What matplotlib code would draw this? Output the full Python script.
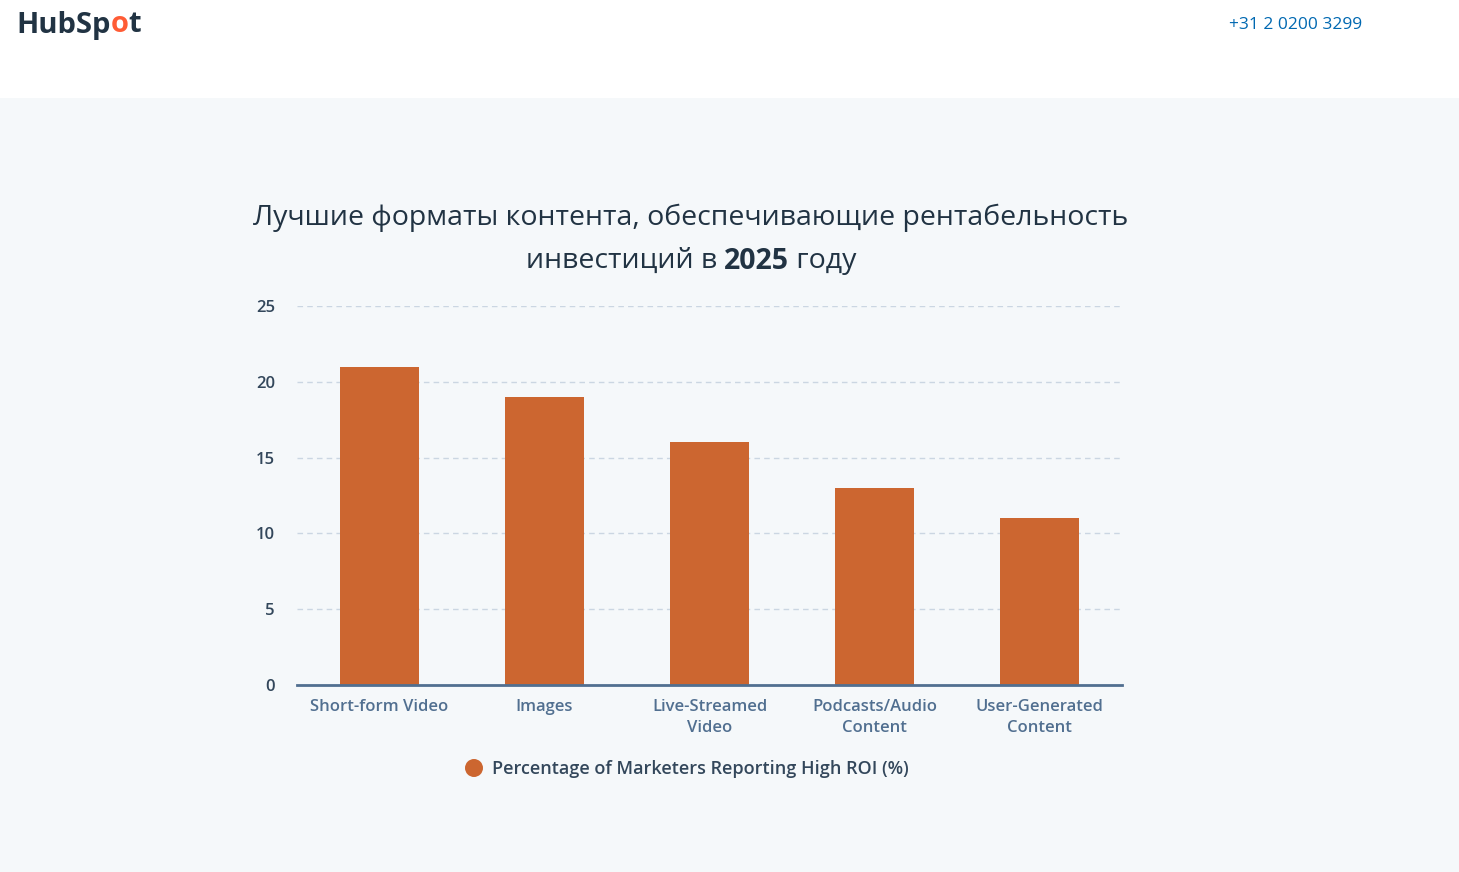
import matplotlib.pyplot as plt
from matplotlib.patches import Rectangle, Ellipse

categories = ['Short-form Video', 'Images', 'Live-Streamed\nVideo', 'Podcasts/Audio\nContent', 'User-Generated\nContent']
values = [21, 19, 16, 13, 11]
yticks = [0, 5, 10, 15, 20, 25]
legend_label = 'Percentage of Marketers Reporting High ROI (%)'
title_line1 = 'Лучшие форматы контента, обеспечивающие рентабельность'
title_line2 = ['инвестиций в ', '2025', ' году']

plt.rcParams['font.family'] = ['Open Sans', 'DejaVu Sans']

bar_color = '#cc6630'
text_color = '#33475b'
bg = '#f5f8fa'
W, H = 1459, 872

fig = plt.figure(figsize=(14.59, 8.72), dpi=100)
fig.patch.set_facecolor(bg)
# white header band
fig.add_artist(Rectangle((0, 1 - 98 / H), 1, 98 / H, transform=fig.transFigure,
                         facecolor='white', edgecolor='none', zorder=0))


def text_row(pieces, x0, y, r, **kw):
    # place pieces one after another starting at pixel x0
    xpos = x0
    for txt, extra in pieces:
        t = fig.text(xpos / W, y, txt, **{**kw, **extra})
        xpos += t.get_window_extent(r).width
    return xpos


fig.canvas.draw()
r = fig.canvas.get_renderer()

# logo and phone
text_row([('HubSp', {}), ('o', {'color': '#ff5c35'}), ('t', {})], 16, 1 - 25 / H, r,
         fontsize=21, fontweight='bold', color='#213343', va='center', ha='left')
fig.text(1362 / W, 1 - 25 / H, '+31 2 0200 3299', fontsize=12.5, color='#0068b1',
         va='center', ha='right')

ax = fig.add_axes([297 / W, 1 - 685 / H, 825 / W, 379 / H])
ax.set_facecolor(bg)
x = range(len(categories))
ax.bar(x, values, width=0.475, color=bar_color, zorder=3)
ax.set_xlim(-0.5, len(categories) - 0.5)
ax.set_ylim(0, 25)
ax.set_yticks(yticks)
ax.set_yticklabels([str(v) for v in yticks])
ax.set_xticks(list(x))
ax.set_xticklabels(categories, linespacing=1.4)
for v in yticks[1:]:
    ax.axhline(v, color='#cbd6e2', linestyle=(0, (4, 3)), linewidth=1, zorder=1)
for s in ['top', 'right', 'left']:
    ax.spines[s].set_visible(False)
ax.spines['bottom'].set_color('#516f90')
ax.spines['bottom'].set_linewidth(2)
ax.spines['bottom'].set_zorder(4)
ax.tick_params(axis='both', length=0, labelsize=12, labelcolor=text_color)
ax.tick_params(axis='y', pad=16)
ax.tick_params(axis='x', pad=10)
for lab in ax.get_xticklabels() + ax.get_yticklabels():
    lab.set_fontweight('semibold')
for lab in ax.get_xticklabels():
    lab.set_color('#516f90')

# title
fig.text(691 / W, 1 - 218 / H, title_line1, fontsize=20.5, color='#213343',
         ha='center', va='center')
kw = dict(fontsize=20.5, color='#213343', va='center', ha='left')
tmp = [fig.text(0, 0, t, fontweight='bold' if i == 1 else 'normal', **kw)
       for i, t in enumerate(title_line2)]
total = sum(t.get_window_extent(r).width for t in tmp)
for t in tmp:
    t.remove()
text_row([(t, {'fontweight': 'bold' if i == 1 else 'normal'}) for i, t in enumerate(title_line2)],
         691 - total / 2, 1 - 261 / H, r, **kw)

# legend
fig.add_artist(Ellipse((474 / W, 1 - 768 / H), 18 / W, 18 / H, transform=fig.transFigure,
                       facecolor=bar_color, edgecolor='none'))
fig.text(492 / W, 1 - 769 / H, legend_label, fontsize=13, fontweight='semibold',
         color=text_color, ha='left', va='center')

fig.savefig('out.png', dpi=100, facecolor=bg)
